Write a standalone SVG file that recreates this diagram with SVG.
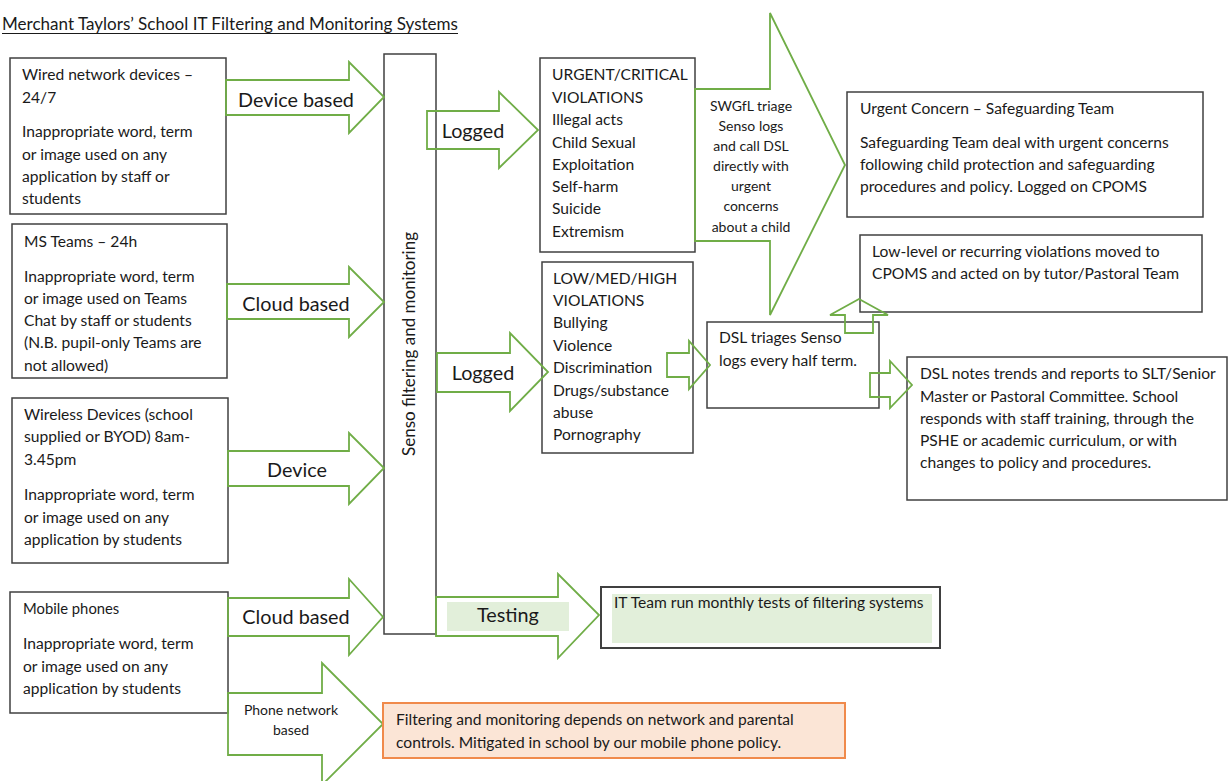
<svg xmlns="http://www.w3.org/2000/svg" width="1229" height="781" viewBox="0 0 1229 781">
<style>
.t{font-family:Lato,"Liberation Sans",sans-serif;font-size:15.6px;fill:#1a1a1a}
.big{font-size:19.8px}
.sm{font-size:14px}
.mid{text-anchor:middle}
.box{fill:#fff;stroke:#404040;stroke-width:1.5}
.arr{fill:none;stroke:#70ad47;stroke-width:1.8;stroke-linejoin:miter}
</style>
<rect width="1229" height="781" fill="#fff"/>
<g id="title">
<text class="t" x="2" y="30" style="font-size:17px" textLength="456" lengthAdjust="spacingAndGlyphs">Merchant Taylors’ School IT Filtering and Monitoring Systems</text>
<line x1="2" y1="33.5" x2="458" y2="33.5" stroke="#1a1a1a" stroke-width="1"/>
</g>
<g id="wired">
<rect class="box" x="10" y="58" width="216" height="156"/>
<text class="t" x="22" y="80">Wired network devices –</text>
<text class="t" x="22" y="103">24/7</text>
<text class="t" x="22" y="137">Inappropriate word, term</text>
<text class="t" x="22" y="160">or image used on any</text>
<text class="t" x="22" y="182">application by staff or</text>
<text class="t" x="22" y="204">students</text>
</g>
<g id="msteams">
<rect class="box" x="12" y="224" width="215" height="154"/>
<text class="t" x="24" y="247">MS Teams – 24h</text>
<text class="t" x="24" y="282">Inappropriate word, term</text>
<text class="t" x="24" y="304">or image used on Teams</text>
<text class="t" x="24" y="326">Chat by staff or students</text>
<text class="t" x="24" y="348">(N.B. pupil-only Teams are</text>
<text class="t" x="24" y="371">not allowed)</text>
</g>
<g id="wireless">
<rect class="box" x="12" y="398" width="216" height="165"/>
<text class="t" x="24" y="420">Wireless Devices (school</text>
<text class="t" x="24" y="442">supplied or BYOD) 8am-</text>
<text class="t" x="24" y="465">3.45pm</text>
<text class="t" x="24" y="500">Inappropriate word, term</text>
<text class="t" x="24" y="523">or image used on any</text>
<text class="t" x="24" y="545">application by students</text>
</g>
<g id="mobile">
<rect class="box" x="10" y="592" width="218" height="121"/>
<text class="t" x="23" y="614" style="font-size:14.8px">Mobile phones</text>
<text class="t" x="23" y="649">Inappropriate word, term</text>
<text class="t" x="23" y="672">or image used on any</text>
<text class="t" x="23" y="694">application by students</text>
</g>
<g id="senso">
<rect class="box" x="384" y="54" width="52" height="580"/>
<text class="t mid" transform="translate(415,344) rotate(-90)" style="font-size:17px">Senso filtering and monitoring</text>
</g>
<g id="urgent-violations">
<rect class="box" x="540" y="58" width="155" height="194"/>
<text class="t" x="552" y="80">URGENT/CRITICAL</text>
<text class="t" x="552" y="103">VIOLATIONS</text>
<text class="t" x="552" y="125">Illegal acts</text>
<text class="t" x="552" y="148">Child Sexual</text>
<text class="t" x="552" y="170">Exploitation</text>
<text class="t" x="552" y="192">Self-harm</text>
<text class="t" x="552" y="214">Suicide</text>
<text class="t" x="552" y="237">Extremism</text>
</g>
<g id="low-violations">
<rect class="box" x="542" y="262" width="151" height="191"/>
<text class="t" x="553" y="284">LOW/MED/HIGH</text>
<text class="t" x="553" y="306">VIOLATIONS</text>
<text class="t" x="553" y="328">Bullying</text>
<text class="t" x="553" y="351">Violence</text>
<text class="t" x="553" y="373">Discrimination</text>
<text class="t" x="553" y="396">Drugs/substance</text>
<text class="t" x="553" y="418">abuse</text>
<text class="t" x="553" y="440">Pornography</text>
</g>
<g id="urgent-concern">
<rect class="box" x="847" y="92" width="356" height="125"/>
<text class="t" x="860" y="114">Urgent Concern – Safeguarding Team</text>
<text class="t" x="860" y="148">Safeguarding Team deal with urgent concerns</text>
<text class="t" x="860" y="170">following child protection and safeguarding</text>
<text class="t" x="860" y="192">procedures and policy. Logged on CPOMS</text>
</g>
<g id="low-level">
<rect class="box" x="860" y="235" width="342" height="77"/>
<text class="t" x="872" y="257">Low-level or recurring violations moved to</text>
<text class="t" x="872" y="279">CPOMS and acted on by tutor/Pastoral Team</text>
</g>
<g id="dsl-triage">
<rect class="box" x="707" y="322" width="172" height="86"/>
<text class="t" x="719" y="343">DSL triages Senso</text>
<text class="t" x="719" y="366">logs every half term.</text>
</g>
<g id="dsl-notes">
<rect class="box" x="907" y="357" width="320" height="143"/>
<text class="t" x="920" y="379">DSL notes trends and reports to SLT/Senior</text>
<text class="t" x="920" y="402">Master or Pastoral Committee. School</text>
<text class="t" x="920" y="424">responds with staff training, through the</text>
<text class="t" x="920" y="446">PSHE or academic curriculum, or with</text>
<text class="t" x="920" y="468">changes to policy and procedures.</text>
</g>
<g id="it-team">
<rect class="box" x="601" y="587" width="339" height="61" style="stroke-width:2"/>
<rect x="612" y="594" width="320" height="49" fill="#e2efda"/>
<text class="t" x="614" y="608">IT Team run monthly tests of filtering systems</text>
</g>
<g id="connectors">
<polygon class="arr" points="226,80 349,80 349,62 384,97 349,133 349,115 226,115"/>
<text class="t big mid" x="296" y="107">Device based</text>
<polygon class="arr" points="227,284 349,284 349,267 384,302 349,337 349,319 227,319"/>
<text class="t big mid" x="296" y="311">Cloud based</text>
<polygon class="arr" points="228,451 349,451 349,433 384,468 349,504 349,486 228,486"/>
<text class="t big mid" x="297" y="477">Device</text>
<polygon class="arr" points="228,598 349,598 349,579 383,617 349,655 349,636 228,636"/>
<text class="t big mid" x="296" y="624">Cloud based</text>
<polygon class="arr" points="228,693 322,693 322,663 383,724 322,785 322,755 228,755"/>
<text class="t sm mid" x="291" y="715">Phone network</text>
<text class="t sm mid" x="291" y="735">based</text>
<polygon class="arr" points="427,111 499,111 499,92 538,130 499,168 499,149 427,149"/>
<text class="t big mid" x="473" y="138">Logged</text>
<polygon class="arr" points="437,353 510,353 510,333 548,372 510,411 510,392 437,392"/>
<text class="t big mid" x="483" y="380">Logged</text>
<rect x="447" y="602" width="122" height="29" fill="#e2efda"/>
<polygon class="arr" points="436,597 558,597 558,574 599,615 558,658 558,636 436,636"/>
<text class="t big mid" x="508" y="622">Testing</text>
<polygon class="arr" points="695,89 770,89 770,13 845,165 770,315 770,241 695,241"/>
<text class="t sm mid" x="751" y="111">SWGfL triage</text>
<text class="t sm mid" x="751" y="131">Senso logs</text>
<text class="t sm mid" x="751" y="151">and call DSL</text>
<text class="t sm mid" x="751" y="171">directly with</text>
<text class="t sm mid" x="751" y="191">urgent</text>
<text class="t sm mid" x="751" y="211">concerns</text>
<text class="t sm mid" x="751" y="232">about a child</text>
<polygon class="arr" points="667,353 689,353 689,341 710,365 689,389 689,377 667,377"/>
<polygon class="arr" points="845,333 845,315 830,315 859,299 888,315 873,315 873,333"/>
<polygon class="arr" points="870,373 890,373 890,361 912,385 890,408 890,397 870,397"/>
</g>
<g id="phone-note">
<rect x="383" y="703" width="462" height="55" fill="#fbe5d6" stroke="#f08a4b" stroke-width="2"/>
<text class="t" x="396" y="725">Filtering and monitoring depends on network and parental</text>
<text class="t" x="396" y="748">controls. Mitigated in school by our mobile phone policy.</text>
</g>
</svg>
